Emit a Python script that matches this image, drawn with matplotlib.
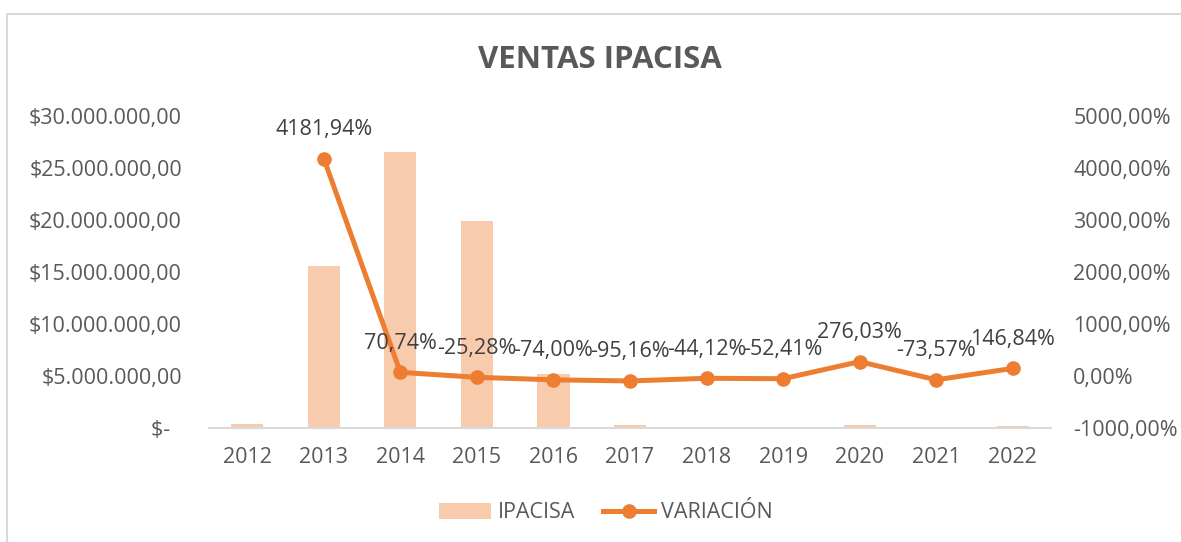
import matplotlib.pyplot as plt
from matplotlib.patches import Rectangle
from matplotlib.ticker import FuncFormatter

plt.rcParams["font.family"] = ["Open Sans", "DejaVu Sans"]

years = ["2012", "2013", "2014", "2015", "2016", "2017", "2018", "2019", "2020", "2021", "2022"]
ventas = [364000, 15600000, 26500000, 19900000, 5170000, 250000, 140000, 66600, 250000, 66200, 163000]
variacion = [None, 4181.94, 70.74, -25.28, -74.00, -95.16, -44.12, -52.41, 276.03, -73.57, 146.84]

text_color = "#595959"
bar_color = "#F8CBAD"
line_color = "#ED7D31"

fig = plt.figure(figsize=(11.81, 5.42), dpi=100)
ax = fig.add_axes([209/1181, 1 - 428/542, (1051 - 209)/1181, (428 - 116)/542])
ax2 = ax.twinx()

x = range(len(years))
bars = ax.bar(x, ventas, width=0.42, color=bar_color, label="IPACISA", zorder=1)

xs = [i for i, v in zip(x, variacion) if v is not None]
vs = [v for v in variacion if v is not None]
line, = ax2.plot(xs, vs, color=line_color, lw=3.6, marker="o", ms=9.5,
                 label="VARIACIÓN", zorder=3)

ax.set_xlim(-0.5, len(years) - 0.5)
ax.set_ylim(0, 30000000)
ax2.set_ylim(-1000, 5000)
ax.set_yticks(range(0, 30000001, 5000000))
ax2.set_yticks(range(-1000, 5001, 1000))


def money(v, pos):
    if v == 0:
        return "$-  "
    s = f"{v:,.2f}".replace(",", "X").replace(".", ",").replace("X", ".")
    return "$" + s


ax.yaxis.set_major_formatter(FuncFormatter(money))
ax2.yaxis.set_major_formatter(FuncFormatter(lambda v, p: f"{v:.2f}".replace(".", ",") + "%"))

ax.set_xticks(list(x))
ax.set_xticklabels(years)

for a in (ax, ax2):
    for s in a.spines.values():
        s.set_visible(False)
    a.tick_params(length=0, labelsize=15.5, labelcolor=text_color)
ax.spines["bottom"].set_visible(True)
ax.spines["bottom"].set_color("#D9D9D9")
ax.spines["bottom"].set_linewidth(1.5)
ax.tick_params(axis="x", pad=14)
ax.tick_params(axis="y", pad=19.5)
ax2.tick_params(axis="y", pad=16)

# data labels above the line points
for xi, v in zip(xs, vs):
    lbl = f"{v:.2f}".replace(".", ",") + "%"
    ax2.annotate(lbl, (xi, v), xytext=(0, 13.5), textcoords="offset points",
                 ha="center", va="bottom", fontsize=15.5, color="#404040")

fig.text(600/1181, 1 - 60/542, "VENTAS IPACISA", ha="center", va="center",
         fontsize=22.5, fontweight="bold", color=text_color)

fig.legend(handles=[bars, line], loc="center", bbox_to_anchor=(606/1181, 1 - 513/542),
           ncol=2, frameon=False, fontsize=15.5, labelcolor=text_color,
           handlelength=2.4, columnspacing=1.3, handletextpad=0.3)

# chart area border (only top and left edges fall inside the image)
fig.patches.append(Rectangle((6.5/1181, -0.1), 1.2, 1 - 13.5/542 + 0.1,
                             transform=fig.transFigure, fill=False,
                             edgecolor="#D9D9D9", lw=1.5))

fig.savefig("out.png", dpi=100)
